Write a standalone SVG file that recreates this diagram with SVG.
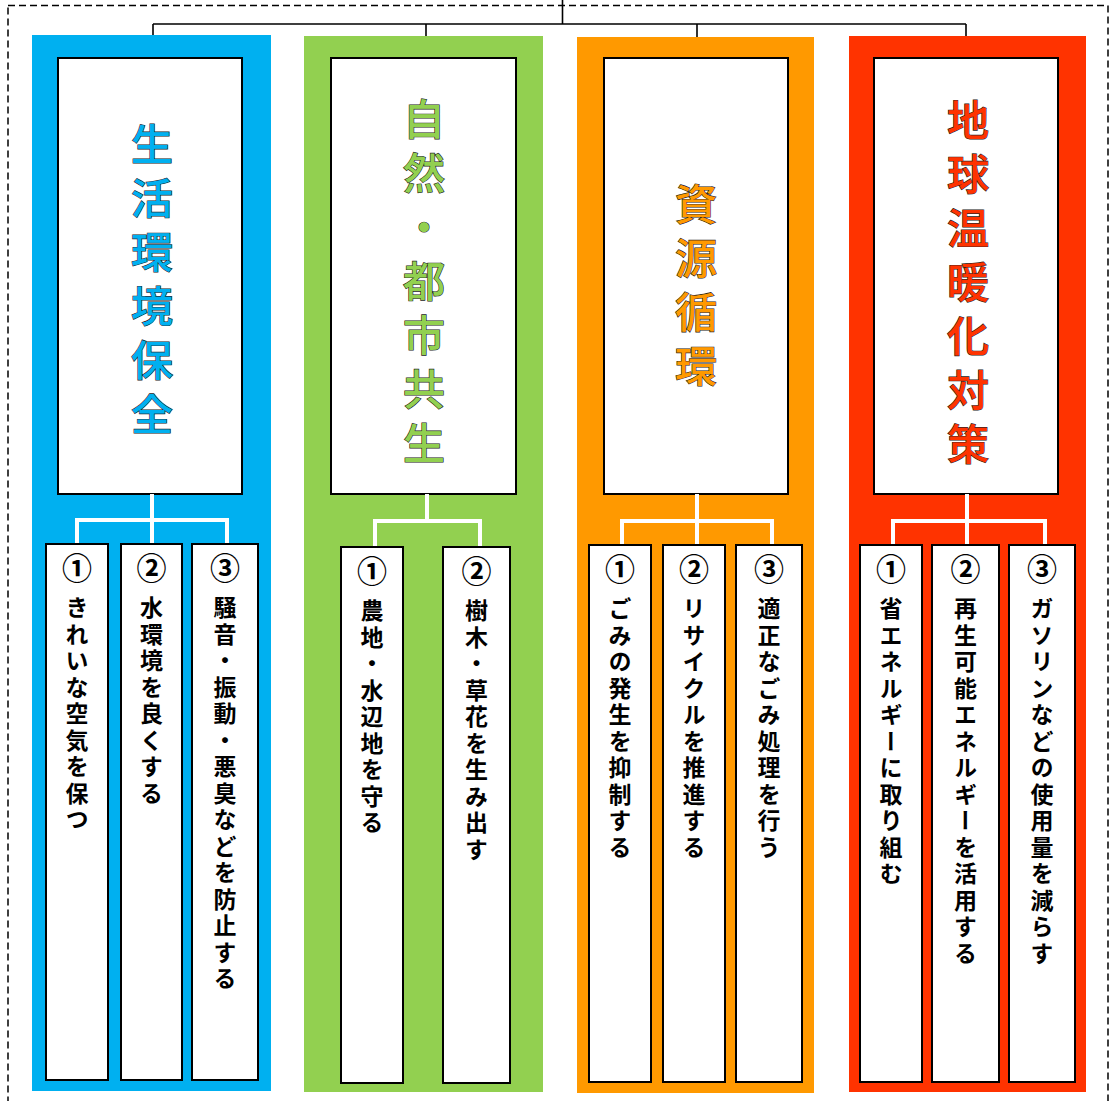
<svg xmlns="http://www.w3.org/2000/svg" width="1113" height="1101" viewBox="0 0 1113 1101">
<style>
.frame{fill:none;stroke:#000;stroke-width:1.5;stroke-dasharray:7 4}
.conn{fill:none;stroke:#000;stroke-width:1.6}
.wconn{fill:none;stroke:#fff;stroke-width:4;stroke-linejoin:miter}
.box{fill:#fff;stroke:#000;stroke-width:2}
.title{font-family:"Noto Sans CJK JP","Noto Sans",sans-serif;font-size:42px;letter-spacing:12px;writing-mode:vertical-rl;stroke:#222;stroke-width:1.2px;paint-order:stroke fill;font-weight:500}
.num{font-family:"Noto Sans CJK JP","Noto Sans",sans-serif;font-size:30px;font-weight:bold;fill:#000;text-anchor:middle}
.sub{font-family:"Noto Sans CJK JP","Noto Sans",sans-serif;font-size:23px;font-weight:bold;fill:#000;letter-spacing:3.5px;writing-mode:vertical-rl}
</style>
<rect class="frame" x="8" y="5.5" width="1100" height="1110"/>
<g id="connectors">
<path class="conn" d="M562.5 0V24M153 24H966M153 24V35M426 24V36M697 24V37M966 24V36"/>
</g>
<g id="col-blue">
<rect x="32" y="35" width="239" height="1056" fill="#00B0F0"/>
<rect class="box" x="58" y="58" width="184" height="436"/>
<text class="title" x="152" y="123" fill="#00B0F0">生活環境保全</text>
<path class="wconn" d="M152 494V544M77 544V520H227V544"/>
<g id="blue-1"><rect class="box" x="46" y="544" width="62" height="536"/><text class="num" x="77" y="579">①</text><text class="sub" x="77" y="596">きれいな空気を保つ</text></g>
<g id="blue-2"><rect class="box" x="121" y="544" width="61" height="536"/><text class="num" x="151.5" y="579">②</text><text class="sub" x="151.5" y="596">水環境を良くする</text></g>
<g id="blue-3"><rect class="box" x="192" y="544" width="66" height="536"/><text class="num" x="225" y="579">③</text><text class="sub" x="225" y="596">騒音・振動・悪臭などを防止する</text></g>
</g>
<g id="col-green">
<rect x="304" y="36" width="239" height="1056" fill="#92D050"/>
<rect class="box" x="331" y="58" width="185" height="436"/>
<text class="title" x="424" y="98" fill="#92D050">自然・都市共生</text>
<path class="wconn" d="M427 494V521M375 547V521H480V547"/>
<g id="green-1"><rect class="box" x="341" y="547" width="62" height="536"/><text class="num" x="372" y="582">①</text><text class="sub" x="372" y="599">農地・水辺地を守る</text></g>
<g id="green-2"><rect class="box" x="443" y="547" width="67" height="536"/><text class="num" x="476.5" y="582">②</text><text class="sub" x="476.5" y="599">樹木・草花を生み出す</text></g>
</g>
<g id="col-orange">
<rect x="577" y="37" width="237" height="1056" fill="#FF9900"/>
<rect class="box" x="604" y="58" width="184" height="436"/>
<text class="title" x="696" y="183" fill="#FF9900">資源循環</text>
<path class="wconn" d="M697 494V545M622 545V521H772V545"/>
<g id="orange-1"><rect class="box" x="589" y="545" width="62" height="537"/><text class="num" x="620" y="580">①</text><text class="sub" x="620" y="597">ごみの発生を抑制する</text></g>
<g id="orange-2"><rect class="box" x="663" y="545" width="62" height="537"/><text class="num" x="694" y="580">②</text><text class="sub" x="694" y="597">リサイクルを推進する</text></g>
<g id="orange-3"><rect class="box" x="736" y="545" width="66" height="537"/><text class="num" x="769" y="580">③</text><text class="sub" x="769" y="597">適正なごみ処理を行う</text></g>
</g>
<g id="col-red">
<rect x="849" y="36" width="237" height="1056" fill="#FF3300"/>
<rect class="box" x="874" y="58" width="184" height="436"/>
<text class="title" x="968" y="99" fill="#FF3300">地球温暖化対策</text>
<path class="wconn" d="M967 494V545M893 545V521H1045V545"/>
<g id="red-1"><rect class="box" x="860" y="545" width="62" height="537"/><text class="num" x="891" y="580">①</text><text class="sub" x="891" y="597">省エネルギーに取り組む</text></g>
<g id="red-2"><rect class="box" x="932" y="545" width="67" height="537"/><text class="num" x="965.5" y="580">②</text><text class="sub" x="965.5" y="597">再生可能エネルギーを活用する</text></g>
<g id="red-3"><rect class="box" x="1009" y="545" width="66" height="537"/><text class="num" x="1042" y="580">③</text><text class="sub" x="1042" y="597">ガソリンなどの使用量を減らす</text></g>
</g>
</svg>
